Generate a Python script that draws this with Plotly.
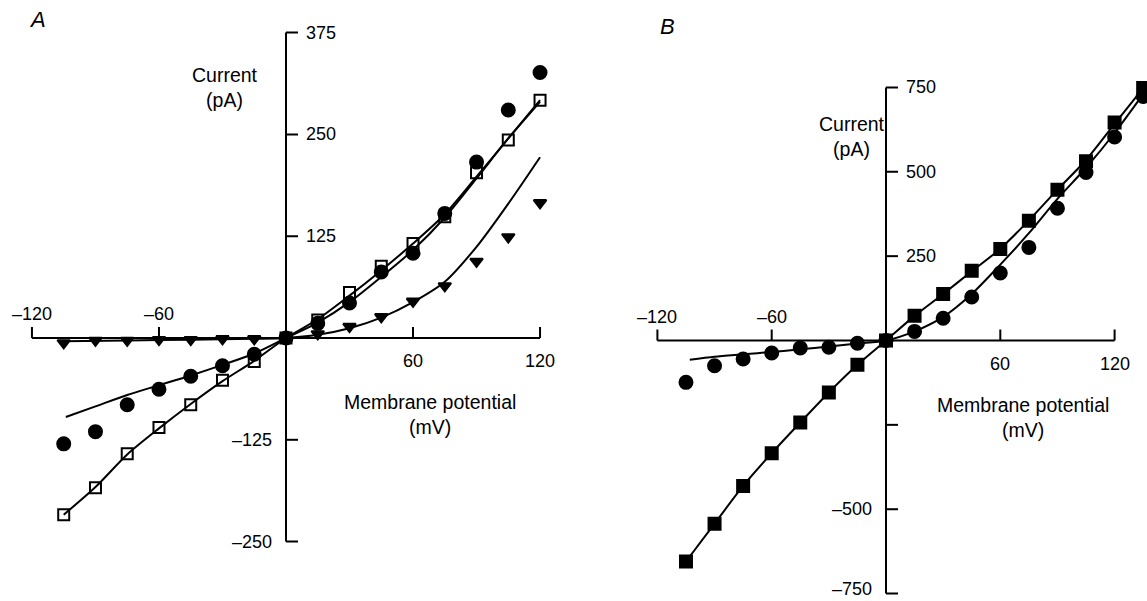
import plotly.graph_objects as go

# ---------------- data: panel A ----------------
volt_A = [-105, -90, -75, -60, -45, -30, -15, 0, 15, 30, 45, 60, 75, 90, 105, 120]
tri_A = [-6, -3, -3, -2, -2, -1, -1, 0, 5, 14, 26, 45, 64, 94, 124, 166]
circ_A = [-130, -115, -82, -63, -47, -34, -20, 0, 18, 43, 81, 104, 153, 216, 280, 326]
sq_A = [-217, -184, -142, -110, -82, -52, -29, 0, 22, 56, 88, 116, 149, 203, 243, 292]

tri_fit_volt_A = [-105, -75, -45, -15, 0, 15, 30, 45, 60, 75, 90, 105, 120]
tri_fit_A = [-4, -3, -2, -1, 0, 4, 12, 25, 44, 69, 112, 165, 222]
circ_fit_volt_A = [-104, -90, -75, -60, -45, -30, -15, 0, 15, 30, 45, 60, 75, 90, 105, 120]
circ_fit_A = [-97, -84, -70, -58, -46, -33, -19, 0, 19, 44, 75, 108, 148, 196, 245, 290]
sq_fit_volt_A = [-105, -90, -75, -60, -45, -30, -15, 0, 15, 30, 45, 60, 75, 90, 105, 120]
sq_fit_A = [-217, -183, -143, -111, -81, -53, -28, 0, 23, 52, 83, 116, 152, 198, 245, 292]

xticks_A = [-120, -60, 60, 120]
yticks_A = [375, 250, 125, -125, -250]
xaxis_span_A = [-120, 120]
yaxis_span_A = [-250, 375]

# ---------------- data: panel B ----------------
volt_B = [-105, -90, -75, -60, -45, -30, -15, 0, 15, 30, 45, 60, 75, 90, 105, 120, 135]
circ_B = [-124, -75, -55, -37, -22, -20, -8, 0, 27, 66, 129, 200, 276, 392, 498, 603, 723]
sq_B = [-655, -543, -431, -334, -243, -154, -72, 0, 73, 138, 207, 271, 355, 447, 531, 646, 748]

circ_fit_volt_B = [-103, -90, -75, -60, -45, -30, -15, 0, 15, 30, 45, 60, 75, 90, 105, 120, 135]
circ_fit_B = [-57, -48, -41, -34, -26, -18, -9, 0, 27, 70, 138, 225, 318, 420, 512, 615, 730]
sq_fit_volt_B = volt_B
sq_fit_B = [-655, -543, -431, -334, -243, -154, -72, 0, 73, 138, 205, 272, 356, 447, 535, 642, 748]

xticks_B = [-120, -60, 60, 120]
yticks_B = [750, 500, 250, -250, -500, -750]
ylabels_B = ["750", "500", "250", "", "–500", "–750"]
xaxis_span_B = [-120, 120]
yaxis_span_B = [-750, 750]

# ---------------- layout geometry ----------------
W, H = 1147, 601
FONT = "Liberation Sans, Arial, Helvetica, sans-serif"
BLACK = "#000000"
TICK_FS = 18
TITLE_FS = 19.5


def domains(x0px, xscale, xr, y0px, yscale, yr):
    left = x0px + xr[0] * xscale
    right = x0px + xr[1] * xscale
    top = y0px - yr[1] * yscale
    bottom = y0px - yr[0] * yscale
    return [left / W, right / W], [(H - bottom) / H, (H - top) / H]


xr_A, yr_A = [-130, 130], [-300, 400]
xr_B, yr_B = [-130, 136], [-770, 800]
xdom_A, ydom_A = domains(286, 2.117, xr_A, 338, 0.8144, yr_A)
xdom_B, ydom_B = domains(886, 1.905, xr_B, 340.5, 0.3374, yr_B)

fig = go.Figure()

LW = 2


def add_panel(xa, ya, fits, pts):
    for vx, vy in fits:
        fig.add_trace(go.Scatter(x=vx, y=vy, mode="lines", xaxis=xa, yaxis=ya,
                                 line=dict(color=BLACK, width=LW, shape="spline", smoothing=0.8),
                                 hoverinfo="skip", showlegend=False))
    for vx, vy, sym, size in pts:
        fig.add_trace(go.Scatter(x=vx, y=vy, mode="markers", xaxis=xa, yaxis=ya,
                                 marker=dict(symbol=sym, size=size, color=BLACK,
                                             line=dict(color=BLACK, width=2)),
                                 cliponaxis=False, showlegend=False))


add_panel("x", "y",
          [(tri_fit_volt_A, tri_fit_A), (circ_fit_volt_A, circ_fit_A), (sq_fit_volt_A, sq_fit_A)],
          [(volt_A, tri_A, "triangle-down", 11), (volt_A, circ_A, "circle", 13),
           (volt_A, sq_A, "square-open", 11)])
add_panel("x2", "y2",
          [(circ_fit_volt_B, circ_fit_B), (sq_fit_volt_B, sq_fit_B)],
          [(volt_B, circ_B, "circle", 13), (volt_B, sq_B, "square", 12)])

shapes = []
annotations = []


def axes_decor(xref, yref, xspan, yspan, xticks, yticks, ylabels, xlab_pos, ylab_pos, panel_letter, letter_pos):
    line = dict(color=BLACK, width=LW)
    shapes.append(dict(type="line", xref=xref, yref=yref, x0=xspan[0], x1=xspan[1], y0=0, y1=0, line=line))
    shapes.append(dict(type="line", xref=xref, yref=yref, x0=0, x1=0, y0=yspan[0], y1=yspan[1], line=line))
    for v in xticks:
        shapes.append(dict(type="line", xref=xref, yref=yref, ysizemode="pixel", yanchor=0,
                           y0=0, y1=11, x0=v, x1=v, line=line))
        lab = ("–" + str(abs(v))) if v < 0 else str(v)
        annotations.append(dict(xref=xref, yref=yref, x=v, y=0, text=lab, showarrow=False,
                                xanchor="center", yanchor="middle",
                                yshift=24 if v < 0 else -23,
                                font=dict(family=FONT, size=TICK_FS, color=BLACK)))
    for v, lab in zip(yticks, ylabels):
        shapes.append(dict(type="line", xref=xref, yref=yref, xsizemode="pixel", xanchor=0,
                           x0=0, x1=12, y0=v, y1=v, line=line))
        if lab:
            # keep the lowest label fully inside the picture
            ys = 5 if v == min(yticks) and yref == "y2" else 0
            annotations.append(dict(xref=xref, yref=yref, x=0, y=v, text=lab, showarrow=False,
                                    xanchor="left" if v > 0 else "right", yanchor="middle",
                                    xshift=18 if v > 0 else -12, yshift=ys,
                                    font=dict(family=FONT, size=TICK_FS, color=BLACK)))
    annotations.append(dict(xref=xref, yref=yref, x=ylab_pos[0], y=ylab_pos[1],
                            text="Current<br>(pA)", showarrow=False, xanchor="center", yanchor="middle",
                            font=dict(family=FONT, size=TITLE_FS, color=BLACK)))
    annotations.append(dict(xref=xref, yref=yref, x=xlab_pos[0], y=xlab_pos[1],
                            text="Membrane potential<br>(mV)", showarrow=False, xanchor="center",
                            yanchor="middle", font=dict(family=FONT, size=TITLE_FS, color=BLACK)))
    annotations.append(dict(xref="paper", yref="paper", x=letter_pos[0] / W, y=1 - letter_pos[1] / H,
                            text="<i>" + panel_letter + "</i>", showarrow=False,
                            xanchor="center", yanchor="middle",
                            font=dict(family=FONT, size=22, color=BLACK)))


axes_decor("x", "y", xaxis_span_A, yaxis_span_A, xticks_A, yticks_A,
           [("–" + str(abs(v))) if v < 0 else str(v) for v in yticks_A],
           (68, -94), (-28.8, 308), "A", (37, 20))
axes_decor("x2", "y2", xaxis_span_B, yaxis_span_B, xticks_B, yticks_B, ylabels_B,
           (72, -227), (-17.8, 606), "B", (667, 27))

hidden = dict(visible=False, showgrid=False, zeroline=False, fixedrange=True)
fig.update_layout(
    width=W, height=H,
    margin=dict(l=0, r=0, t=0, b=0),
    paper_bgcolor="white", plot_bgcolor="white",
    showlegend=False,
    xaxis=dict(domain=xdom_A, range=xr_A, anchor="y", **hidden),
    yaxis=dict(domain=ydom_A, range=yr_A, anchor="x", **hidden),
    xaxis2=dict(domain=xdom_B, range=xr_B, anchor="y2", **hidden),
    yaxis2=dict(domain=ydom_B, range=yr_B, anchor="x2", **hidden),
    shapes=shapes,
    annotations=annotations,
)

fig.write_html("out.html", config={"displayModeBar": False},
               post_script="document.body.style.margin='0';")
